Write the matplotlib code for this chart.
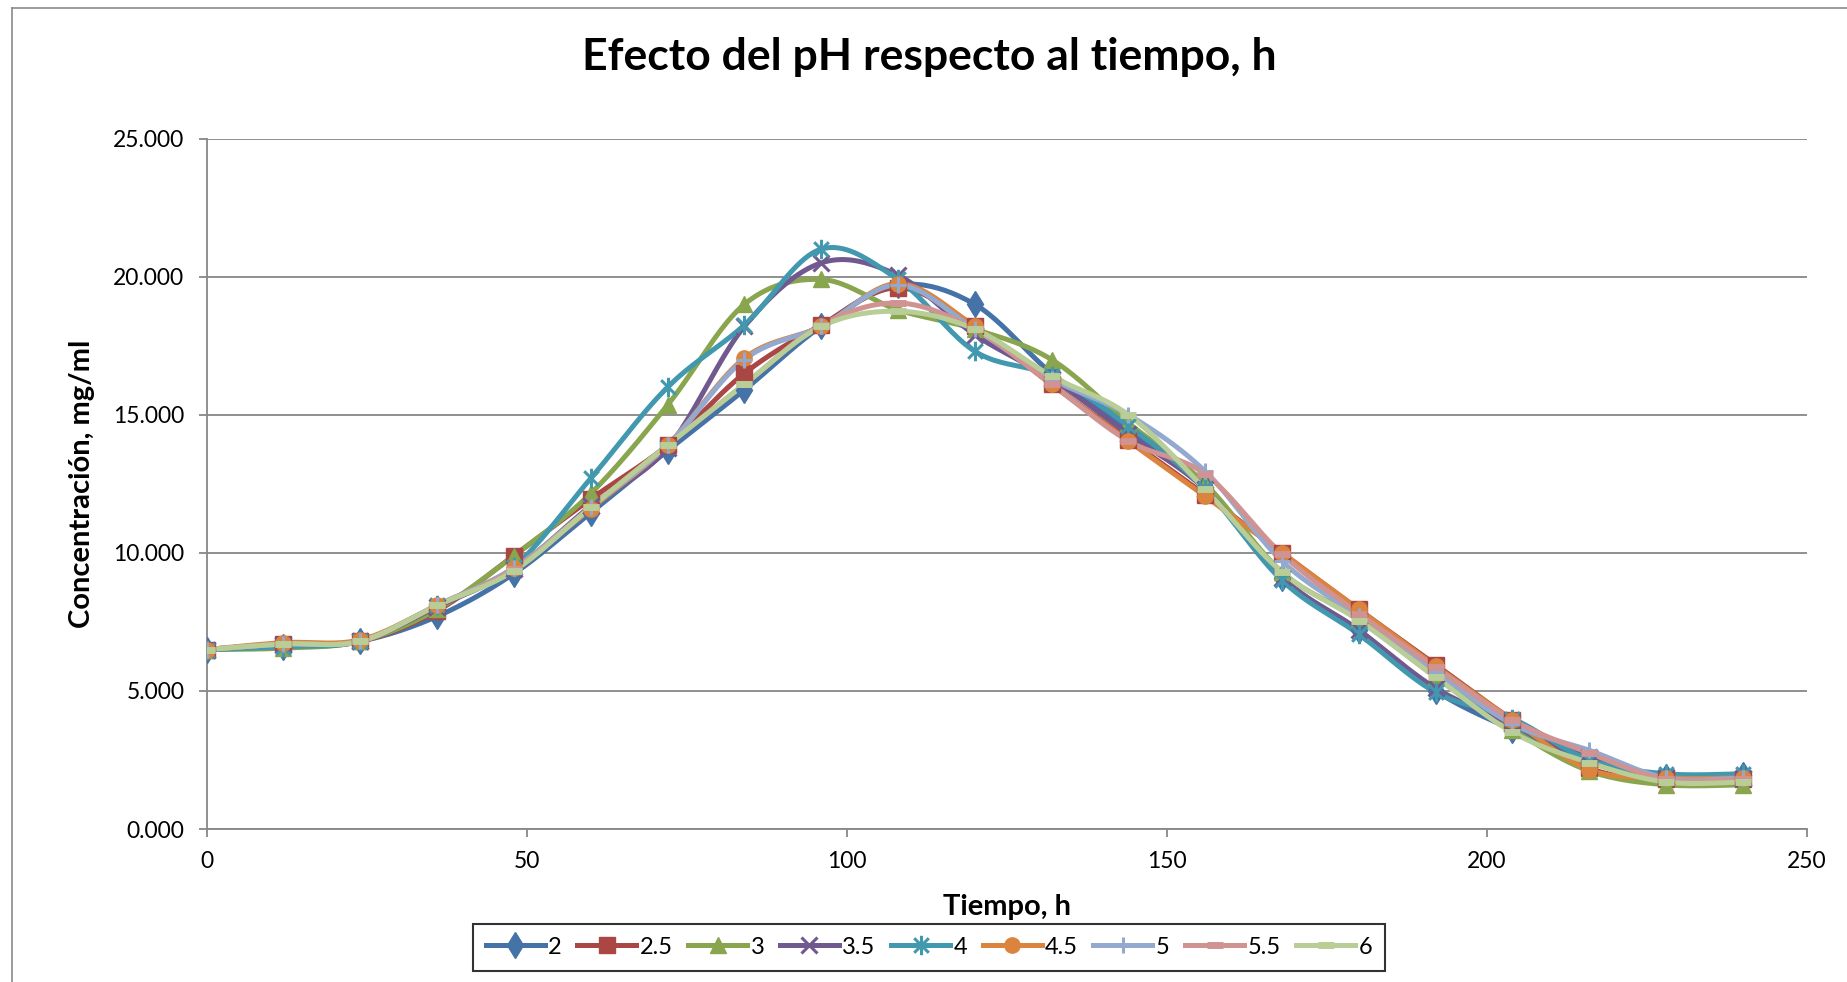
import numpy as np
import matplotlib
matplotlib.use('Agg')
import matplotlib.pyplot as plt
from matplotlib.lines import Line2D
from matplotlib.path import Path
from matplotlib.ticker import FormatStrFormatter

plt.rcParams['font.family'] = ['Lato', 'DejaVu Sans']

tiempo = [0, 12, 24, 36, 48, 60, 72, 84, 96, 108, 120, 132, 144, 156, 168, 180, 192, 204, 216, 228, 240]

ph_labels = ['2', '2.5', '3', '3.5', '4', '4.5', '5', '5.5', '6']

ph_2 = [6.5, 6.6, 6.8, 7.7, 9.25, 11.45, 13.7, 15.9, 18.2, 19.7, 19.0, 16.5, 14.4, 12.4, 9.1, 7.2, 5.0, 3.6, 2.5, 1.9, 1.95]
ph_2_5 = [6.5, 6.7, 6.8, 7.9, 9.9, 11.95, 13.9, 16.5, 18.25, 19.6, 18.2, 16.1, 14.1, 12.1, 10.0, 7.95, 5.95, 3.95, 2.2, 1.8, 1.8]
ph_3 = [6.5, 6.55, 6.8, 7.95, 9.9, 12.15, 15.35, 19.0, 19.9, 18.8, 18.1, 17.0, 14.7, 12.5, 9.3, 7.6, 5.5, 3.6, 2.1, 1.6, 1.6]
ph_3_5 = [6.5, 6.65, 6.8, 8.05, 9.4, 11.7, 13.8, 18.2, 20.5, 20.05, 17.9, 16.3, 14.3, 12.3, 9.1, 7.2, 5.1, 3.8, 2.6, 1.9, 1.85]
ph_4 = [6.5, 6.6, 6.8, 8.1, 9.5, 12.7, 16.0, 18.25, 21.0, 19.9, 17.3, 16.4, 14.6, 12.3, 9.0, 7.05, 4.95, 4.0, 2.5, 2.0, 2.0]
ph_4_5 = [6.5, 6.75, 6.85, 8.1, 9.45, 11.6, 13.9, 17.05, 18.2, 19.75, 18.2, 16.1, 14.05, 12.05, 10.0, 7.95, 5.9, 3.95, 2.15, 1.85, 1.85]
ph_5 = [6.5, 6.7, 6.8, 8.1, 9.45, 11.65, 13.9, 17.0, 18.2, 19.7, 18.1, 16.3, 15.0, 12.95, 9.7, 7.7, 5.7, 3.8, 2.85, 1.85, 1.85]
ph_5_5 = [6.5, 6.7, 6.8, 8.1, 9.4, 11.65, 13.9, 16.1, 18.25, 19.05, 18.1, 16.1, 14.05, 12.85, 9.95, 7.8, 5.85, 3.95, 2.75, 1.8, 1.8]
ph_6 = [6.5, 6.7, 6.8, 8.1, 9.35, 11.65, 13.9, 16.1, 18.2, 18.75, 18.1, 16.4, 15.0, 12.3, 9.3, 7.55, 5.5, 3.5, 2.4, 1.7, 1.7]

series = [ph_2, ph_2_5, ph_3, ph_3_5, ph_4, ph_4_5, ph_5, ph_5_5, ph_6]
colors = ['#4572A7', '#AA4643', '#89A54E', '#71588F', '#4198AF', '#DB843D', '#93A9CF', '#D19392', '#B9CD96']

# Excel-style asterisk: an X with a vertical bar
asterisk = Path([(0, -1), (0, 1), (-0.75, -0.75), (0.75, 0.75), (-0.75, 0.75), (0.75, -0.75)],
                [Path.MOVETO, Path.LINETO, Path.MOVETO, Path.LINETO, Path.MOVETO, Path.LINETO])
markers = ['d', 's', '^', 'x', asterisk, 'o', '+', '_', '_']


def smooth(x, y, n=24):
    # Catmull-Rom curve through the points, like Excel's smoothed line
    p = np.column_stack([x, y]).astype(float)
    p = np.vstack([p[0], p, p[-1]])
    out = []
    s = np.linspace(0, 1, n)[:, None]
    for i in range(1, len(p) - 2):
        p0, p1, p2, p3 = p[i - 1], p[i], p[i + 1], p[i + 2]
        seg = 0.5 * ((2 * p1) + (-p0 + p2) * s + (2 * p0 - 5 * p1 + 4 * p2 - p3) * s ** 2
                     + (-p0 + 3 * p1 - 3 * p2 + p3) * s ** 3)
        out.append(seg if i == 1 else seg[1:])
    out = np.vstack(out)
    return out[:, 0], out[:, 1]


def marker_style(m):
    if isinstance(m, Path):
        return dict(markersize=14, markeredgewidth=2.2, fillstyle='none')
    if m == 'd':
        return dict(markersize=13, markeredgewidth=1)
    if m in ('s', '^', 'o'):
        return dict(markersize=11, markeredgewidth=1)
    if m == '_':
        return dict(markersize=12, markeredgewidth=5)
    return dict(markersize=12, markeredgewidth=2.2)


fig = plt.figure(figsize=(18.47, 9.82), dpi=100)
ax = fig.add_axes([0.1119, 0.1558, 0.8664, 0.7030])

# chart outer border (top and left visible)
fig.add_artist(Line2D([12 / 1847, 12 / 1847], [0, 1 - 8 / 982], transform=fig.transFigure, color='#8a8a8a', lw=1.2))
fig.add_artist(Line2D([12 / 1847, 1], [1 - 8 / 982, 1 - 8 / 982], transform=fig.transFigure, color='#8a8a8a', lw=1.2))

handles = []
for vals, c, m, lab in zip(series, colors, markers, ph_labels):
    xs, ys = smooth(tiempo, vals)
    ax.plot(xs, ys, color=c, lw=3.6, solid_capstyle='round', zorder=3)
    ax.plot(tiempo, vals, linestyle='none', marker=m, color=c, markeredgecolor=c, zorder=4,
            **marker_style(m))
    handles.append(Line2D([], [], color=c, lw=3.6, marker=m, markeredgecolor=c, **marker_style(m)))

ax.set_xlim(0, 250)
ax.set_ylim(0, 25)
ax.set_xticks([0, 50, 100, 150, 200, 250])
ax.set_yticks([0, 5, 10, 15, 20, 25])
ax.yaxis.set_major_formatter(FormatStrFormatter('%.3f'))
ax.grid(axis='y', color='#878787', lw=1.3)
ax.set_axisbelow(True)
for s in ['top', 'right']:
    ax.spines[s].set_visible(False)
for s in ['left', 'bottom']:
    ax.spines[s].set_color('#878787')
    ax.spines[s].set_linewidth(1.3)
ax.tick_params(direction='out', length=6, width=1.3, color='#878787', labelsize=16.5, pad=10)

ax.set_xlabel('Tiempo, h', fontsize=21, fontweight='bold', va='center')
ax.xaxis.set_label_coords(0.5, -0.113)
ax.set_ylabel('Concentración, mg/ml', fontsize=21, fontweight='bold', va='center')
ax.yaxis.set_label_coords(-0.078, 0.5)
fig.text(0.503, 0.942, 'Efecto del pH respecto al tiempo, h', fontsize=32, fontweight='bold',
         ha='center', va='center')

leg = fig.legend(handles, ph_labels, loc='center', bbox_to_anchor=(0.503, 0.0356), ncol=9,
                 fontsize=17, frameon=True, fancybox=False, handlelength=2.5,
                 columnspacing=0.65, handletextpad=0.15, borderpad=0.55)
leg.get_frame().set_edgecolor('black')
leg.get_frame().set_linewidth(1.5)

plt.savefig('out.png', dpi=100)
